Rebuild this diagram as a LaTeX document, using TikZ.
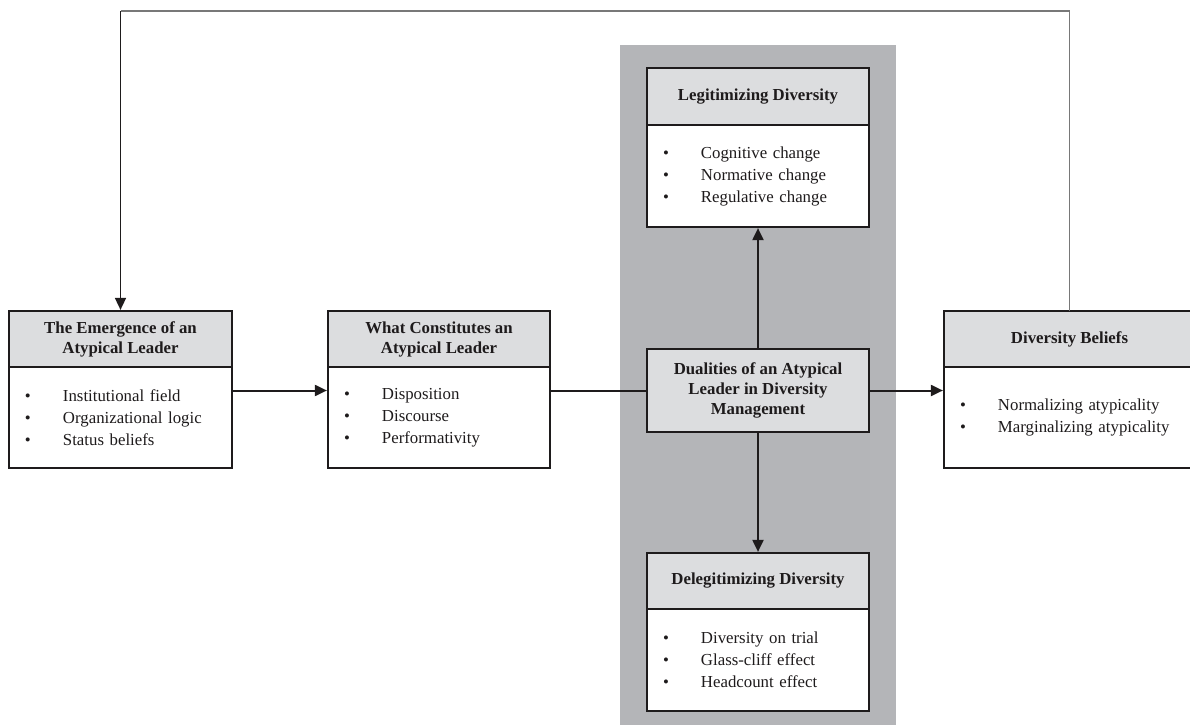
\documentclass[tikz,border=0pt]{standalone}
\usepackage{fontspec}
\setmainfont{Liberation Serif}
\usetikzlibrary{arrows.meta}
\definecolor{hdrgray}{RGB}{220,221,223}
\definecolor{panelgray}{RGB}{180,181,184}
\definecolor{ink}{RGB}{30,27,28}
\definecolor{fbline}{RGB}{120,120,120}
\newcommand{\itm}[1]{\makebox[38bp][l]{\textbullet}#1}
\tikzset{
  hdr/.style={draw=ink, line width=2.2bp, fill=hdrgray, text=ink, inner sep=0pt,
    outer sep=0pt, align=center, font=\fontsize{16.8bp}{20bp}\selectfont\bfseries},
  bodybox/.style={draw=ink, line width=2.2bp, fill=white, text=ink, anchor=north,
    outer sep=0pt, inner xsep=16bp, inner ysep=0pt, align=left,
    font=\fontsize{16.8bp}{22bp}\selectfont},
  arr/.style={draw=ink, line width=2bp, shorten >=1.1bp, -{Triangle[length=12bp,width=11bp]}},
  link/.style={draw=ink, line width=2bp},
  fbgray/.style={draw=fbline, line width=1.3bp},
  fbdark/.style={draw=ink, line width=1.6bp, shorten >=1.1bp, -{Triangle[length=12bp,width=11bp]}}
}
\begin{document}
\begin{tikzpicture}[x=1bp, y=-1bp]
\useasboundingbox (0,0) rectangle (1190,726);
% grey panel
\fill[panelgray] (620,45) rectangle (896,725);

% Box 1
\node[hdr, minimum width=223bp, minimum height=56bp] (h1) at (120.5,339)
  {The Emergence of an\\Atypical Leader};
\node[bodybox, minimum width=223bp, minimum height=101bp, text width=191bp] (b1) at (h1.south)
  {\itm{Institutional field}\\\itm{Organizational logic}\\\itm{Status beliefs}};

% Box 2
\node[hdr, minimum width=222bp, minimum height=56bp] (h2) at (439,339)
  {What Constitutes an\\Atypical Leader};
\node[bodybox, minimum width=222bp, minimum height=101bp, text width=190bp] (b2) at (h2.south)
  {\itm{Disposition}\\\itm{Discourse}\\\itm{Performativity}};

% Legitimizing
\node[hdr, minimum width=222bp, minimum height=57bp] (h3) at (758,96.5)
  {Legitimizing Diversity};
\node[bodybox, minimum width=222bp, minimum height=102bp, text width=190bp] (b3) at (h3.south)
  {\itm{Cognitive change}\\\itm{Normative change}\\\itm{Regulative change}};

% Delegitimizing
\node[hdr, minimum width=222bp, minimum height=56bp] (h4) at (758,581)
  {Delegitimizing Diversity};
\node[bodybox, minimum width=222bp, minimum height=102bp, text width=190bp] (b4) at (h4.south)
  {\itm{Diversity on trial}\\\itm{Glass-cliff effect}\\\itm{Headcount effect}};

% Diversity beliefs
\node[hdr, minimum width=251bp, minimum height=56bp] (h5) at (1069.5,339)
  {Diversity Beliefs};
\node[bodybox, minimum width=251bp, minimum height=101bp, text width=219bp] (b5) at (h5.south)
  {\itm{Normalizing atypicality}\\\itm{Marginalizing atypicality}};

% Centre box
\node[hdr, minimum width=222bp, minimum height=83bp] (cb) at (758,390.5)
  {Dualities of an Atypical\\Leader in Diversity\\Management};

% connectors
\draw[arr] (b1.east |- cb.west) -- (b2.west |- cb.west);
\draw[link] (b2.east |- cb.west) -- (cb.west);
\draw[arr] (cb.east) -- (b5.west |- cb.east);
\draw[arr] (cb.north) -- (b3.south);
\draw[arr] (cb.south) -- (h4.north);

% feedback loop
\coordinate (fbR) at (1069.5,11);
\coordinate (fbL) at (120.5,11);
\draw[fbgray] (h5.north) -- (fbR) -- (fbL);
\draw[fbdark] (fbL) -- (h1.north);
\end{tikzpicture}
\end{document}
